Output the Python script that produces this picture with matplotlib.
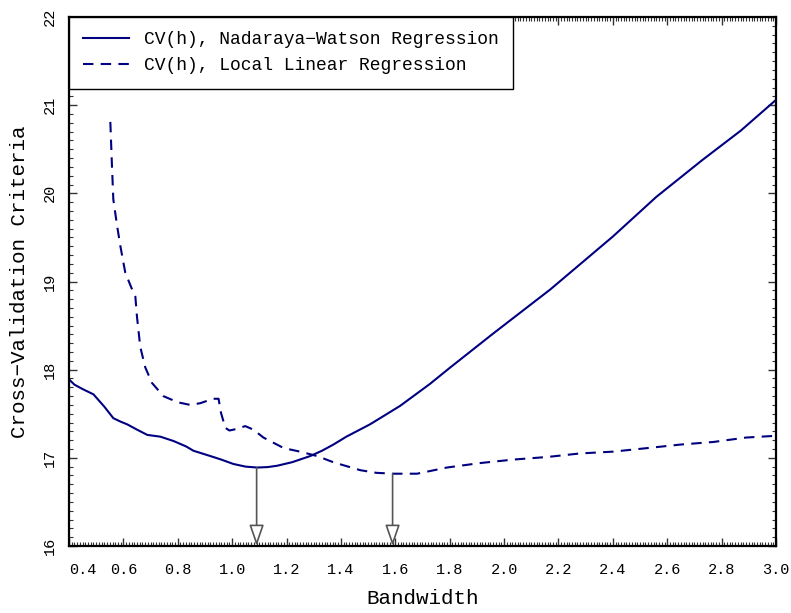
import matplotlib
matplotlib.use("Agg")
import matplotlib.pyplot as plt
from matplotlib.ticker import MultipleLocator

plt.rcParams['font.family'] = ['Liberation Mono', 'DejaVu Sans Mono']

# Nadaraya-Watson CV(h)
nw_h = [0.40, 0.42, 0.45, 0.49, 0.53, 0.563, 0.59, 0.614, 0.65, 0.688, 0.736, 0.785,
        0.83, 0.858, 0.92, 0.96, 1.005, 1.05, 1.092, 1.13, 1.165, 1.22, 1.287, 1.33,
        1.372, 1.42, 1.507, 1.56, 1.618, 1.728, 1.80, 1.96, 2.17, 2.40, 2.56, 2.73,
        2.87, 3.00]
nw_cv = [17.89, 17.83, 17.78, 17.72, 17.58, 17.45, 17.41, 17.38, 17.32, 17.26, 17.24, 17.19,
         17.13, 17.08, 17.02, 16.98, 16.93, 16.90, 16.89, 16.895, 16.91, 16.95, 17.02, 17.08,
         17.15, 17.24, 17.38, 17.48, 17.59, 17.84, 18.02, 18.41, 18.91, 19.51, 19.96, 20.38,
         20.71, 21.06]

# Local linear CV(h)
ll_h = [0.552, 0.558, 0.563, 0.577, 0.589, 0.607, 0.632, 0.644, 0.650, 0.662, 0.680,
        0.705, 0.747, 0.80, 0.846, 0.883, 0.93, 0.95, 0.959, 0.975, 0.99, 1.02, 1.048,
        1.078, 1.115, 1.19, 1.25, 1.313, 1.372, 1.471, 1.53, 1.593, 1.68, 1.79, 1.91,
        2.033, 2.16, 2.28, 2.40, 2.525, 2.647, 2.77, 2.89, 3.00]
ll_cv = [20.81, 20.31, 19.93, 19.63, 19.40, 19.10, 18.91, 18.83, 18.60, 18.26, 18.03,
         17.85, 17.70, 17.63, 17.60, 17.62, 17.67, 17.67, 17.51, 17.34, 17.31, 17.33, 17.36,
         17.32, 17.23, 17.11, 17.07, 17.02, 16.95, 16.86, 16.83, 16.82, 16.82, 16.89, 16.94,
         16.98, 17.01, 17.05, 17.07, 17.11, 17.15, 17.18, 17.23, 17.25]

h_opt = [1.09, 1.59]
cv_opt = [16.89, 16.82]

x_ticks = [0.4, 0.6, 0.8, 1.0, 1.2, 1.4, 1.6, 1.8, 2.0, 2.2, 2.4, 2.6, 2.8, 3.0]
x_ticklabels = ['0.4', '0.6', '0.8', '1.0', '1.2', '1.4', '1.6', '1.8', '2.0', '2.2', '2.4', '2.6', '2.8', '3.0']
y_ticks = [16, 17, 18, 19, 20, 21, 22]
y_ticklabels = ['16', '17', '18', '19', '20', '21', '22']

fig = plt.figure(figsize=(7.91, 6.13), dpi=100)
ax = fig.add_axes([69/791, 1-546/613, (776-69)/791, (546-17)/613])

navy = '#000080'
ax.plot(nw_h, nw_cv, color=navy, lw=1.5, label='CV(h), Nadaraya\u2212Watson Regression')
ax.plot(ll_h, ll_cv, color=navy, lw=1.5, linestyle=(0, (5, 3.5)),
        label='CV(h), Local Linear Regression')

for hx, cy in zip(h_opt, cv_opt):
    ax.annotate('', xy=(hx, 16.0), xytext=(hx, cy),
                arrowprops=dict(arrowstyle='-|>,head_length=1.3,head_width=0.45',
                                fc='white', ec='#555555', lw=1.2, shrinkA=0, shrinkB=0))

ax.set_xlim(0.4, 3.0)
ax.set_ylim(16, 22)
ax.set_xticks(x_ticks)
ax.set_xticklabels(x_ticklabels)
ax.set_yticks(y_ticks)
ax.set_yticklabels(y_ticklabels, rotation=90, va='center')
ax.xaxis.set_minor_locator(MultipleLocator(0.01))
ax.yaxis.set_minor_locator(MultipleLocator(0.1))
ax.tick_params(which='both', direction='in', top=True, right=True, labelsize=11, color='#333333')
ax.tick_params(which='major', length=6, width=1)
ax.tick_params(which='minor', length=3, width=0.8)
ax.tick_params(axis='x', which='major', pad=12)
ax.tick_params(axis='y', which='major', pad=9)
ax.get_xticklabels()[0].set_horizontalalignment('left')
for s in ax.spines.values():
    s.set_linewidth(1.6)

ax.set_xlabel('Bandwidth', fontsize=15, labelpad=9)
ax.set_ylabel('Cross\u2212Validation Criteria', fontsize=15, labelpad=10)

leg = ax.legend(loc='upper left', borderaxespad=0, fontsize=13, fancybox=False,
                framealpha=1, edgecolor='black', handlelength=2.5, handletextpad=0.85,
                borderpad=0.8, labelspacing=0.5)
leg.get_frame().set_linewidth(1.0)

fig.savefig('out.png', dpi=100)
